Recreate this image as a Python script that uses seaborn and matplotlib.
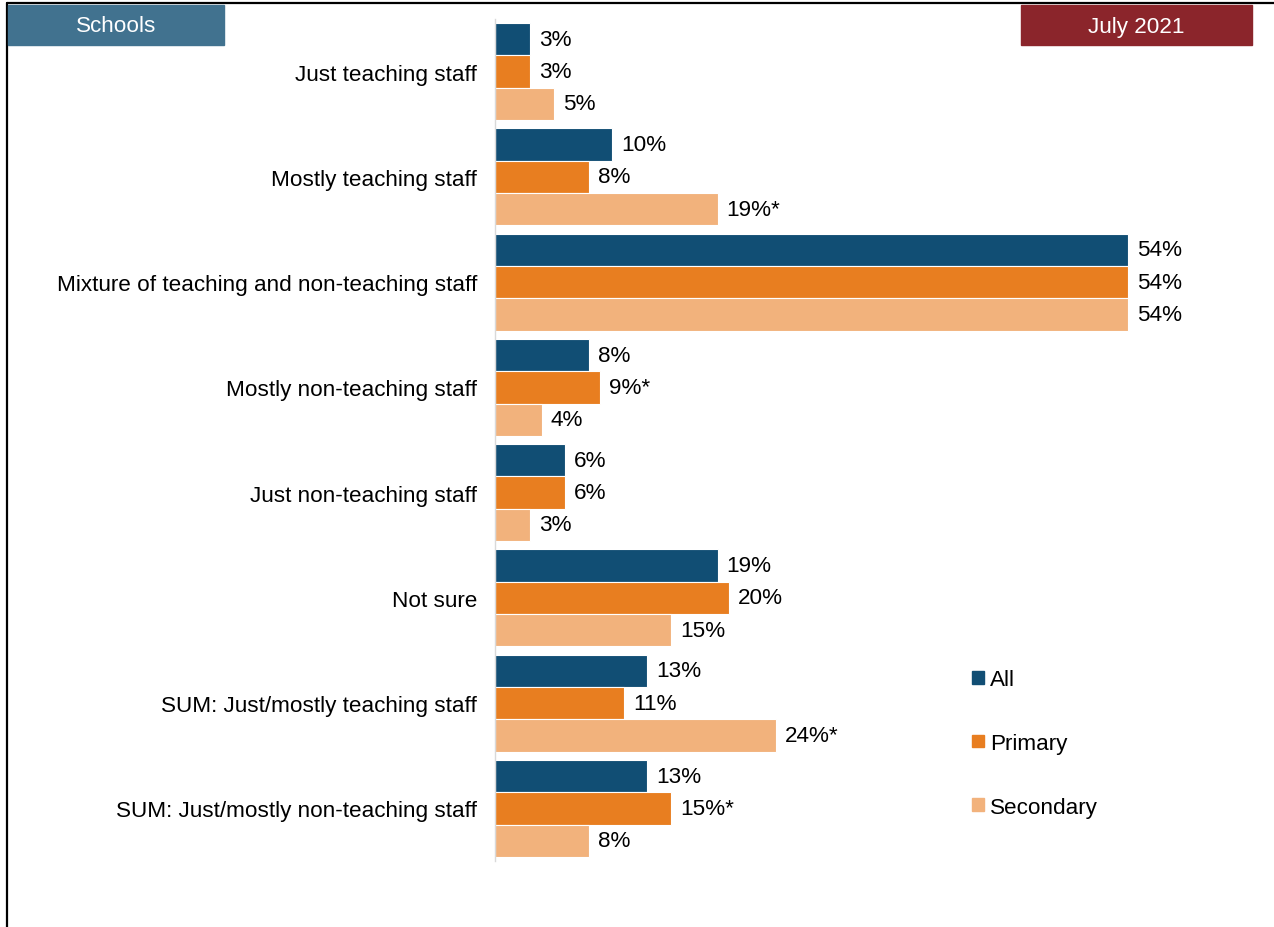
import numpy as np
import pandas as pd
import matplotlib.pyplot as plt
from matplotlib.patches import Rectangle
from matplotlib.lines import Line2D
import seaborn as sns

# -----------------------------
# STYLE
# -----------------------------
sns.set_style("white")
plt.rcParams['font.family'] = ['Liberation Sans', 'DejaVu Sans']
plt.rcParams['text.color'] = "black"
plt.rcParams['ytick.color'] = "black"
plt.rcParams['ytick.labelcolor'] = "black"

FS = 16.2

# -----------------------------
# DATA
# -----------------------------
categories = [
    "Just teaching staff",
    "Mostly teaching staff",
    "Mixture of teaching and non-teaching staff",
    "Mostly non-teaching staff",
    "Just non-teaching staff",
    "Not sure",
    "SUM: Just/mostly teaching staff",
    "SUM: Just/mostly non-teaching staff",
]
groups = ["All", "Primary", "Secondary"]
all_vals = [3, 10, 54, 8, 6, 19, 13, 13]
primary_vals = [3, 8, 54, 9, 6, 20, 11, 15]
secondary_vals = [5, 19, 54, 4, 3, 15, 24, 8]
# significance markers
all_sig = ["", "", "", "", "", "", "", ""]
primary_sig = ["", "", "", "*", "", "", "", "*"]
secondary_sig = ["", "*", "", "", "", "", "*", ""]

colors = ["#114E74", "#E87E20", "#F2B27C"]

df = pd.DataFrame({
    "category": categories * 3,
    "group": [g for g in groups for _ in categories],
    "value": all_vals + primary_vals + secondary_vals,
})

# -----------------------------
# PLOT
# -----------------------------
W, H = 1274, 928
fig = plt.figure(figsize=(W / 100, H / 100), dpi=100)
ax = fig.add_axes([495 / W, (H - 862) / H, 703 / W, 842 / H])

sns.barplot(data=df, y="category", x="value", hue="group", order=categories,
            hue_order=groups, palette=colors, saturation=1, orient="h",
            width=0.92, edgecolor="white", linewidth=0.8, ax=ax, legend=False)

ax.set_xlim(0, 60)
ax.set_ylim(len(categories) - 0.5, -0.5)
ax.set_xlabel("")
ax.set_ylabel("")
ax.set_xticks([])

# value labels
for cont, vals, sig in zip(ax.containers, [all_vals, primary_vals, secondary_vals],
                           [all_sig, primary_sig, secondary_sig]):
    ax.bar_label(cont, labels=[f"{v}%{s}" for v, s in zip(vals, sig)],
                 padding=6.5, fontsize=FS, color="black")

# axis styling
for side in ["top", "right", "bottom"]:
    ax.spines[side].set_visible(False)
ax.spines["left"].set_color("#D9D9D9")
ax.spines["left"].set_linewidth(1)
ax.tick_params(axis="y", which="major", length=0, pad=13, labelsize=FS,
               labelcolor="black")
ax.set_yticks(np.arange(-0.5, len(categories), 1), minor=True)
ax.tick_params(axis="y", which="minor", length=7, color="#D9D9D9", width=1)

# legend
handles = [Rectangle((0, 0), 1, 1, color=c) for c in colors]
fig.legend(handles, groups, loc="upper left",
           bbox_to_anchor=(952 / W, (H - 650) / H), frameon=False,
           fontsize=FS, handlelength=0.5, handleheight=0.5,
           handletextpad=0.3, labelspacing=1.9, labelcolor="black")

# header boxes
fig.add_artist(Rectangle((8 / W, (H - 46) / H), 216 / W, 40 / H,
                         transform=fig.transFigure, color="#41728F", zorder=5))
fig.text(116 / W, (H - 27) / H, "Schools", color="white", fontsize=FS,
         ha="center", va="center", zorder=6)
fig.add_artist(Rectangle((1021 / W, (H - 46) / H), 231 / W, 40 / H,
                         transform=fig.transFigure, color="#8B252B", zorder=5))
fig.text(1136 / W, (H - 27) / H, "July 2021", color="white", fontsize=FS,
         ha="center", va="center", zorder=6)

# frame
fig.add_artist(Line2D([7 / W, 1], [(H - 4) / H, (H - 4) / H],
                      transform=fig.transFigure, color="black", linewidth=1.6))
fig.add_artist(Line2D([7 / W, 7 / W], [0, (H - 4) / H],
                      transform=fig.transFigure, color="black", linewidth=1.6))

fig.savefig("out.png", dpi=100)
